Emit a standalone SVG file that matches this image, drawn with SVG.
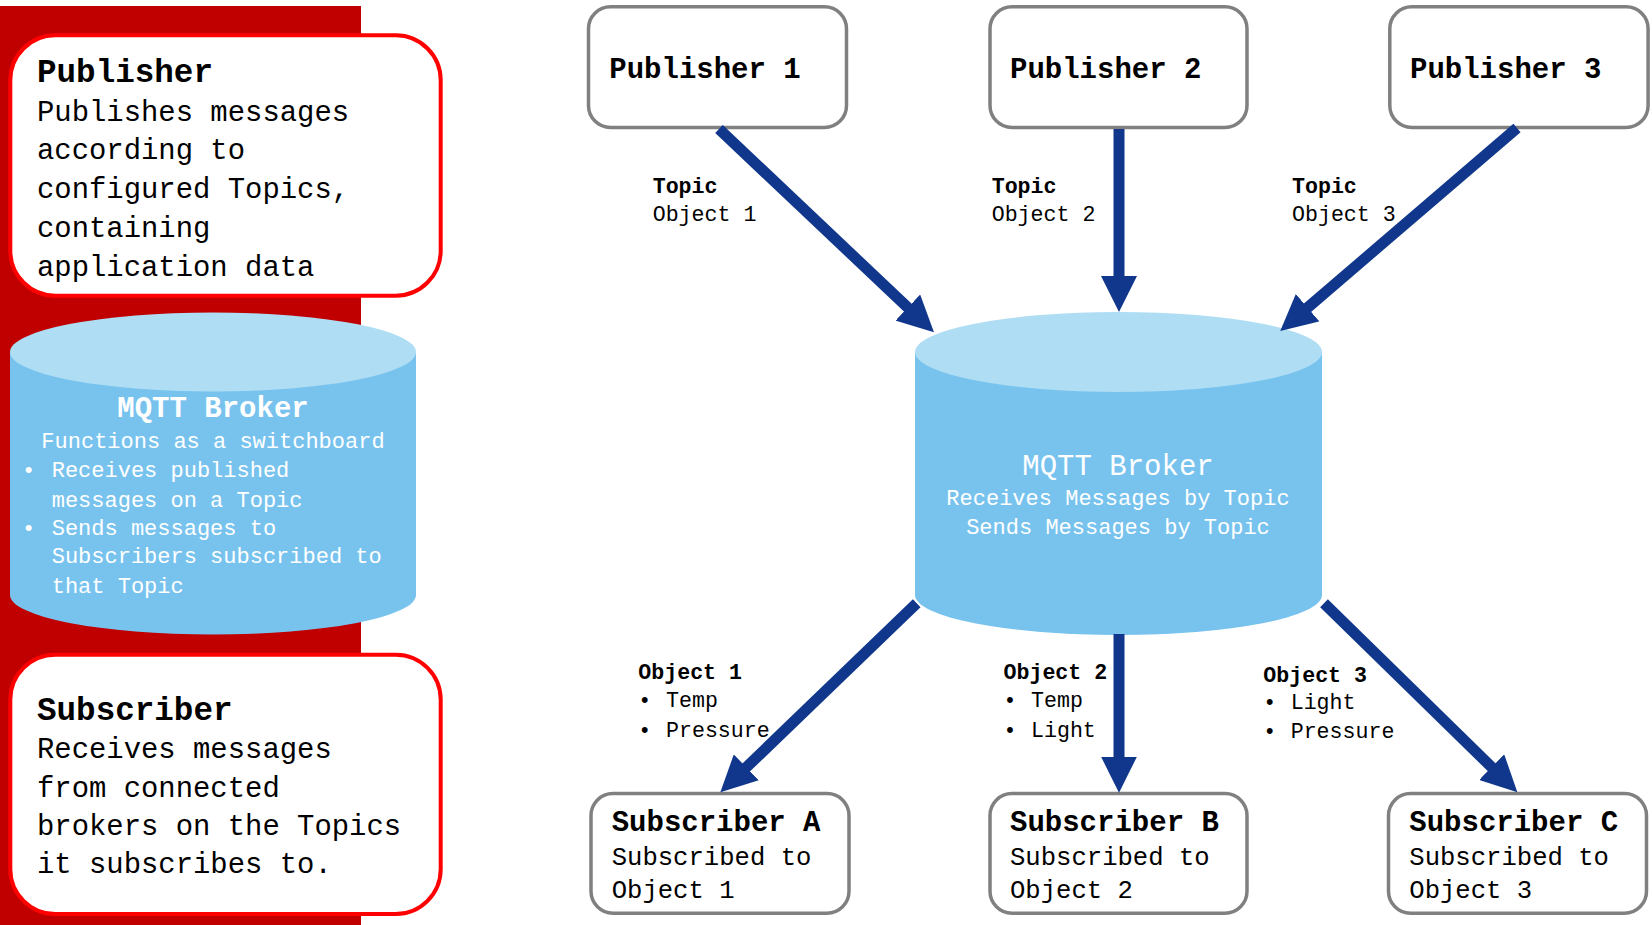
<svg xmlns="http://www.w3.org/2000/svg" width="1652" height="925" viewBox="0 0 1652 925">
<defs>
<style>
text{font-family:"Liberation Mono","DejaVu Sans Mono",monospace;fill:#000}
.b{font-weight:bold}
.w{fill:#fff}
.redbox{fill:#fff;stroke:#ff0000;stroke-width:4}
.graybox{fill:#fff;stroke:#808080;stroke-width:3.5}
.cylbody{fill:#78c3ee}
.cyltop{fill:#aeddf4}
.arrow{stroke:#10378b;stroke-width:11;fill:none;marker-end:url(#ah)}
.lt{font-size:32.6px}
.lb{font-size:28.9px}
.t29{font-size:29px}
.t22{font-size:22px}
.t21{font-size:21.6px}
.t25{font-size:25.6px}
</style>
<marker id="ah" markerUnits="userSpaceOnUse" markerWidth="36" markerHeight="36" viewBox="0 0 35 35" refX="2" refY="17.5" orient="auto">
<path d="M0,0 L35,17.5 L0,35 Z" fill="#10378b"/>
</marker>
</defs>
<rect x="0" y="6" width="361" height="919" fill="#c00000"/>

<g id="legend-publisher">
<rect class="redbox" x="10.3" y="35.3" width="430.4" height="260.4" rx="45" ry="45"/>
<text class="b lt" x="37" y="82">Publisher</text>
<text class="lb" x="37" y="120.7">Publishes messages</text>
<text class="lb" x="37" y="159.3">according to</text>
<text class="lb" x="37" y="198.3">configured Topics,</text>
<text class="lb" x="37" y="237.3">containing</text>
<text class="lb" x="37" y="276">application data</text>
</g>

<g id="legend-broker">
<path class="cylbody" d="M10,352 V595 A203,39.5 0 0 0 416,595 V352 Z"/>
<ellipse class="cyltop" cx="213" cy="352" rx="203" ry="39.5"/>
<text class="b t29 w" x="213" y="417" text-anchor="middle">MQTT Broker</text>
<text class="t22 w" x="213" y="448" text-anchor="middle">Functions as a switchboard</text>
<text class="t22 w" x="22" y="477">•</text>
<text class="t22 w" x="51.7" y="477">Receives published</text>
<text class="t22 w" x="51.7" y="506.7">messages on a Topic</text>
<text class="t22 w" x="22" y="535">•</text>
<text class="t22 w" x="51.7" y="535">Sends messages to</text>
<text class="t22 w" x="51.7" y="563.3">Subscribers subscribed to</text>
<text class="t22 w" x="51.7" y="592.7">that Topic</text>
</g>

<g id="legend-subscriber">
<rect class="redbox" x="10.3" y="654.7" width="430.4" height="259.3" rx="45" ry="45"/>
<text class="b lt" x="37" y="720">Subscriber</text>
<text class="lb" x="37" y="758.3">Receives messages</text>
<text class="lb" x="37" y="796.7">from connected</text>
<text class="lb" x="37" y="835">brokers on the Topics</text>
<text class="lb" x="37" y="873.3">it subscribes to.</text>
</g>

<g id="publisher-1">
<rect class="graybox" x="588.5" y="6.8" width="258" height="120.7" rx="22" ry="22"/>
<text class="b t29" x="609.3" y="78.3">Publisher 1</text>
</g>
<g id="publisher-2">
<rect class="graybox" x="990" y="6.8" width="257" height="120.7" rx="22" ry="22"/>
<text class="b t29" x="1010" y="78.3">Publisher 2</text>
</g>
<g id="publisher-3">
<rect class="graybox" x="1389.8" y="6.8" width="258.3" height="120.7" rx="22" ry="22"/>
<text class="b t29" x="1410" y="78.3">Publisher 3</text>
</g>

<g id="broker">
<path class="cylbody" d="M915,352 V595 A203.5,40 0 0 0 1322,595 V352 Z"/>
<ellipse class="cyltop" cx="1118.5" cy="352" rx="203.5" ry="40"/>
<text class="t29 w" x="1118" y="475" text-anchor="middle">MQTT Broker</text>
<text class="t22 w" x="1118" y="505" text-anchor="middle">Receives Messages by Topic</text>
<text class="t22 w" x="1118" y="534" text-anchor="middle">Sends Messages by Topic</text>
</g>

<g id="subscriber-a">
<rect class="graybox" x="591" y="793.5" width="258" height="119.7" rx="22" ry="22"/>
<text class="b t29" x="611.7" y="830.7">Subscriber A</text>
<text class="t25" x="611.7" y="865">Subscribed to</text>
<text class="t25" x="611.7" y="898.3">Object 1</text>
</g>
<g id="subscriber-b">
<rect class="graybox" x="990" y="793.5" width="257" height="119.7" rx="22" ry="22"/>
<text class="b t29" x="1010" y="830.7">Subscriber B</text>
<text class="t25" x="1010" y="865">Subscribed to</text>
<text class="t25" x="1010" y="898.3">Object 2</text>
</g>
<g id="subscriber-c">
<rect class="graybox" x="1388.5" y="793.5" width="258" height="119.7" rx="22" ry="22"/>
<text class="b t29" x="1409.3" y="830.7">Subscriber C</text>
<text class="t25" x="1409.3" y="865">Subscribed to</text>
<text class="t25" x="1409.3" y="898.3">Object 3</text>
</g>

<g id="connectors">
<path class="arrow" d="M719,129 L909.3,309"/>
<path class="arrow" d="M1119,129 L1119,278"/>
<path class="arrow" d="M1517,128 L1306,309"/>
<path class="arrow" d="M916.7,603.3 L744.8,768.8"/>
<path class="arrow" d="M1119,634 L1119,758.7"/>
<path class="arrow" d="M1324,603.3 L1493.1,768.6"/>
</g>

<g id="labels">
<text class="b t21" x="652.7" y="193.3">Topic</text>
<text class="t21" x="652.7" y="220.7">Object 1</text>
<text class="b t21" x="991.7" y="193.3">Topic</text>
<text class="t21" x="991.7" y="220.7">Object 2</text>
<text class="b t21" x="1292" y="193.3">Topic</text>
<text class="t21" x="1292" y="220.7">Object 3</text>

<text class="b t21" x="638.3" y="679.3">Object 1</text>
<text class="t21" x="638.3" y="707.3">•</text>
<text class="t21" x="666" y="707.3">Temp</text>
<text class="t21" x="638.3" y="736.7">•</text>
<text class="t21" x="666" y="736.7">Pressure</text>

<text class="b t21" x="1003.5" y="679.3">Object 2</text>
<text class="t21" x="1003.5" y="707.3">•</text>
<text class="t21" x="1031" y="707.3">Temp</text>
<text class="t21" x="1003.5" y="736.7">•</text>
<text class="t21" x="1031" y="736.7">Light</text>

<text class="b t21" x="1263.3" y="681.7">Object 3</text>
<text class="t21" x="1263.3" y="709.3">•</text>
<text class="t21" x="1290.7" y="709.3">Light</text>
<text class="t21" x="1263.3" y="738.3">•</text>
<text class="t21" x="1290.7" y="738.3">Pressure</text>
</g>
</svg>
